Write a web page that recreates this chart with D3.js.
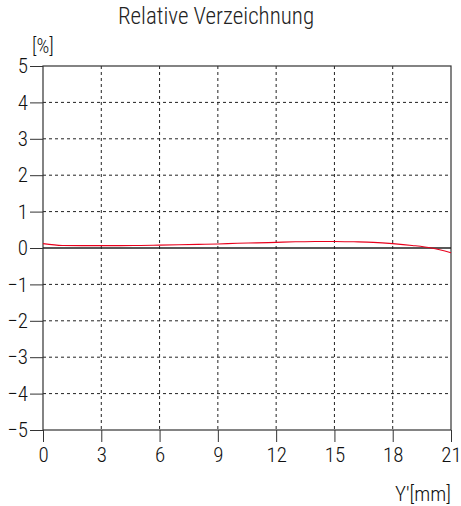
<!DOCTYPE html>
<html><head><meta charset="utf-8">
<script src="https://cdn.jsdelivr.net/npm/d3@7"></script>
<style>html,body{margin:0;padding:0;background:#fff;}svg{display:block;}</style>
</head><body>
<script>
const xTicks = [0,3,6,9,12,15,18,21];
const yTicks = [5,4,3,2,1,0,-1,-2,-3,-4,-5];
const imgHeight = [0,1,2,3,4,5,6,7,8,9,10,11,12,13,14,15,16,17,18,19,20,21];
const distortion = [0.12,0.07,0.065,0.065,0.065,0.07,0.08,0.09,0.10,0.11,0.13,0.14,0.155,0.17,0.18,0.18,0.17,0.155,0.12,0.07,0.0,-0.13];

const W=461,H=506;
const svg=d3.select("body").append("svg").attr("width",W).attr("height",H);
const font="'Roboto Condensed','DejaVu Sans Condensed',sans-serif";
const x=d3.scaleLinear().domain([0,21]).range([43,451]);
const y=d3.scaleLinear().domain([-5,5]).range([430,66]);

// grid
svg.append("g").selectAll("line").data(xTicks.slice(1,-1)).join("line")
 .attr("x1",d=>x(d)).attr("x2",d=>x(d)).attr("y1",y(5)).attr("y2",y(-5))
 .attr("stroke","#222").attr("stroke-width",1).attr("stroke-dasharray","3,3");
svg.append("g").selectAll("line").data(yTicks.filter(d=>d!==5&&d!==-5&&d!==0)).join("line")
 .attr("x1",x(0)).attr("x2",x(21)).attr("y1",d=>y(d)).attr("y2",d=>y(d))
 .attr("stroke","#222").attr("stroke-width",1).attr("stroke-dasharray","3,3");

// frame
svg.append("rect").attr("x",x(0)).attr("y",y(5)).attr("width",x(21)-x(0)).attr("height",y(-5)-y(5))
 .attr("fill","none").attr("stroke","#333").attr("stroke-width",1.2);
// zero line
svg.append("line").attr("x1",x(0)).attr("x2",x(21)).attr("y1",y(0)).attr("y2",y(0))
 .attr("stroke","#222").attr("stroke-width",1.6);

// axes
const yAxis=d3.axisLeft(y).tickValues(yTicks).tickSize(13).tickPadding(2)
 .tickFormat(d=>d<0?"\u2212"+Math.abs(d):d);
const gy=svg.append("g").attr("transform",`translate(${x(0)},0)`).call(yAxis);
gy.select(".domain").remove();
gy.selectAll("line").attr("stroke","#333");
gy.selectAll("text").attr("font-family",font).attr("font-weight",300).attr("font-size",21).attr("fill","#111");

const xAxis=d3.axisBottom(x).tickValues(xTicks).tickSize(12).tickPadding(5);
const gx=svg.append("g").attr("transform",`translate(0,${y(-5)})`).call(xAxis);
gx.select(".domain").remove();
gx.selectAll("line").attr("stroke","#333");
gx.selectAll("text").attr("font-family",font).attr("font-weight",300).attr("font-size",21).attr("fill","#111");

// line
svg.append("path").datum(imgHeight.map((v,i)=>[v,distortion[i]]))
 .attr("d",d3.line().x(d=>x(d[0])).y(d=>y(d[1])).curve(d3.curveMonotoneX))
 .attr("fill","none").attr("stroke","#e8001c").attr("stroke-width",1.1);

// labels
svg.append("text").attr("x",216).attr("y",24).attr("text-anchor","middle")
 .attr("font-family",font).attr("font-weight",300).attr("font-size",23).attr("fill","#222").text("Relative Verzeichnung");
svg.append("text").attr("x",32).attr("y",53)
 .attr("font-family",font).attr("font-weight",300).attr("font-size",20).attr("fill","#111").text("[%]");
svg.append("text").attr("x",451).attr("y",501).attr("text-anchor","end")
 .attr("font-family",font).attr("font-weight",300).attr("font-size",21).attr("fill","#111").text("Y'[mm]");
</script>
</body></html>
